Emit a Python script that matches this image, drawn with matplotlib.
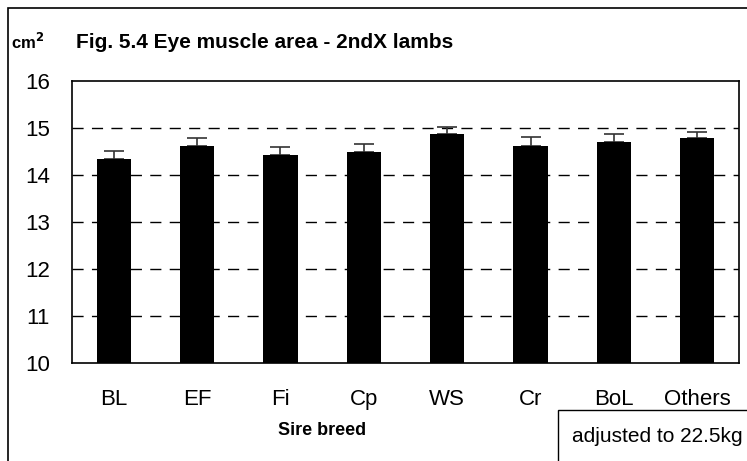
import matplotlib.pyplot as plt
import matplotlib.patches as patches
import numpy as np

plt.rcParams['font.family'] = ['Liberation Sans', 'DejaVu Sans']

breeds = ['BL', 'EF', 'Fi', 'Cp', 'WS', 'Cr', 'BoL', 'Others']
means = [14.35, 14.61, 14.43, 14.48, 14.87, 14.61, 14.70, 14.79]
se = [0.17, 0.17, 0.16, 0.17, 0.16, 0.20, 0.17, 0.13]
y_ticks = [10, 11, 12, 13, 14, 15, 16]

W, H = 747, 461
fig = plt.figure(figsize=(W / 100, H / 100), dpi=100)
ax = fig.add_axes([72 / W, 1 - 363 / H, 667 / W, (363 - 81) / H])

x = np.arange(len(breeds))
ax.bar(x, means, width=0.41, color='black', zorder=3)
ax.errorbar(x, means, yerr=[np.zeros(len(se)), se], fmt='none',
            ecolor='#333333', elinewidth=1.2, capsize=7, capthick=1.2, zorder=2)

ax.set_xlim(-0.5, len(breeds) - 0.5)
ax.set_ylim(10, 16)
ax.set_yticks(y_ticks)
ax.set_xticks(x)
ax.set_xticklabels(breeds, fontsize=16)
ax.set_yticklabels([str(t) for t in y_ticks], fontsize=16)
ax.tick_params(length=0, pad=19, axis='x')
ax.tick_params(length=0, pad=16, axis='y')
for t in y_ticks[1:-1]:
    ax.axhline(t, color='black', lw=1, ls=(0, (8, 6)), zorder=1)
for s in ax.spines.values():
    s.set_linewidth(1.2)

fig.text(265 / W, 1 - 42 / H, 'Fig. 5.4 Eye muscle area - 2ndX lambs',
         ha='center', va='center', fontsize=15, fontweight='bold')
fig.text(11 / W, 1 - 42 / H, 'cm$^\\mathbf{2}$', ha='left', va='center',
         fontsize=12, fontweight='bold')
fig.text(322 / W, 1 - 430 / H, 'Sire breed', ha='center', va='center',
         fontsize=13, fontweight='bold')

# outer frame and note box
fig.patches.append(patches.Rectangle((8 / W, -0.1), 1.2, 1 - 8 / H + 0.1,
                                     transform=fig.transFigure, fill=False,
                                     lw=1.2, ec='black'))
fig.patches.append(patches.Rectangle((558 / W, -0.1), 0.5, 0.1 + 1 - 410 / H,
                                     transform=fig.transFigure, fill=False,
                                     lw=1, ec='black'))
fig.text(572 / W, 1 - 436 / H, 'adjusted to 22.5kg', ha='left', va='center',
         fontsize=15)

fig.savefig('out.png', dpi=100)
